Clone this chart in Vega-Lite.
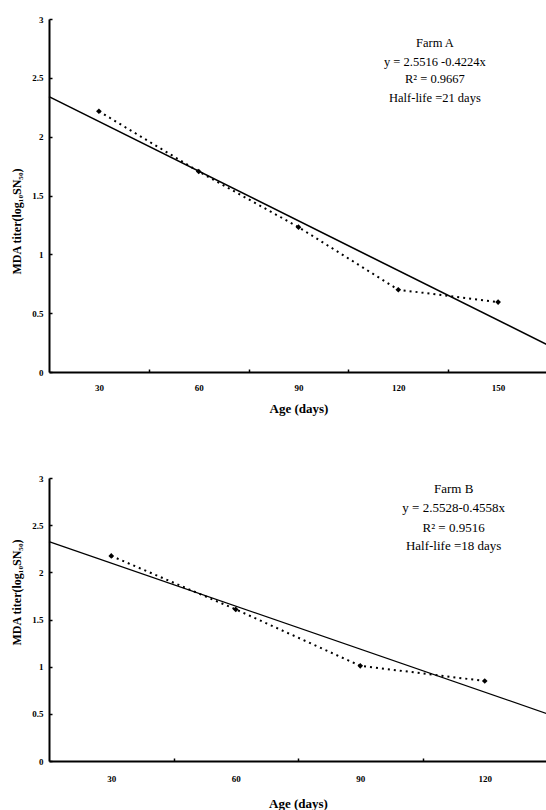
{
  "$schema": "https://vega.github.io/schema/vega-lite/v6.json",
  "padding": {"left": 10, "top": 15, "right": 0, "bottom": 0},
  "background": "white",
  "spacing": 59,
  "config": {
    "font": "Liberation Serif",
    "view": {"stroke": null},
    "axis": {
      "grid": false,
      "domainColor": "black",
      "domainWidth": 2,
      "tickColor": "black",
      "tickWidth": 1.5,
      "labelFont": "Liberation Serif",
      "labelFontWeight": "bold",
      "labelFontSize": 9,
      "labelColor": "black",
      "titleFont": "Liberation Serif",
      "titleFontWeight": "bold",
      "titleColor": "black"
    }
  },
  "datasets": {
    "pointsA": [
      {"age": 30, "titer": 2.216},
      {"age": 60, "titer": 1.704},
      {"age": 90, "titer": 1.231},
      {"age": 120, "titer": 0.699},
      {"age": 150, "titer": 0.594}
    ],
    "fitA": [
      {"age": 15, "titer": 2.3404},
      {"age": 165, "titer": 0.2284}
    ],
    "notesA": [
      {"age": 131, "titer": 2.795, "label": "Farm A"},
      {"age": 131, "titer": 2.636, "label": "y = 2.5516 -0.4224x"},
      {"age": 131, "titer": 2.49, "label": "R² = 0.9667"},
      {"age": 131, "titer": 2.327, "label": "Half-life =21 days"}
    ],
    "pointsB": [
      {"age": 30, "titer": 2.174},
      {"age": 60, "titer": 1.607},
      {"age": 90, "titer": 1.009},
      {"age": 120, "titer": 0.848}
    ],
    "fitB": [
      {"age": 15, "titer": 2.3249},
      {"age": 135, "titer": 0.5017}
    ],
    "notesB": [
      {"age": 112.5, "titer": 2.883, "label": "Farm B"},
      {"age": 112.5, "titer": 2.682, "label": "y = 2.5528-0.4558x"},
      {"age": 112.5, "titer": 2.47, "label": "R² = 0.9516"},
      {"age": 112.5, "titer": 2.279, "label": "Half-life =18 days"}
    ]
  },
  "vconcat": [
    {
      "width": 499,
      "height": 353,
      "layer": [
        {
          "data": {"name": "fitA"},
          "mark": {"type": "line", "color": "black", "strokeWidth": 1.6},
          "encoding": {
            "x": {
              "field": "age", "type": "quantitative",
              "scale": {"domain": [15, 165], "nice": false, "zero": false},
              "axis": {
                "values": [30, 45, 60, 75, 90, 105, 120, 135, 150],
                "labelExpr": "datum.value % 30 == 0 ? datum.value : ''",
                "labelOverlap": false,
                "labelFlush": false,
                "tickSize": -3,
                "tickOpacity": {"condition": {"test": "datum.value % 30 == 0", "value": 0}, "value": 1},
                "labelPadding": 14,
                "title": "Age (days)",
                "titleFontSize": 13,
                "titlePadding": 10
              }
            },
            "y": {
              "field": "titer", "type": "quantitative",
              "scale": {"domain": [0, 3], "nice": false},
              "axis": {
                "values": [0, 0.5, 1, 1.5, 2, 2.5, 3],
                "format": "~g",
                "tickSize": -3,
                "labelPadding": 9,
                "title": "MDA titer(log₁₀SN₅₀)",
                "titleFontSize": 12,
                "titlePadding": 8,
                "titleY": 202
              }
            }
          }
        },
        {
          "data": {"name": "pointsA"},
          "mark": {"type": "line", "color": "black", "strokeWidth": 2, "strokeDash": [2, 4]},
          "encoding": {
            "x": {"field": "age", "type": "quantitative"},
            "y": {"field": "titer", "type": "quantitative"}
          }
        },
        {
          "data": {"name": "pointsA"},
          "mark": {"type": "point", "shape": "diamond", "filled": true, "color": "black", "size": 32, "opacity": 1},
          "encoding": {
            "x": {"field": "age", "type": "quantitative"},
            "y": {"field": "titer", "type": "quantitative"}
          }
        },
        {
          "data": {"name": "notesA"},
          "mark": {"type": "text", "font": "Liberation Serif", "fontSize": 12.5, "color": "black", "align": "center", "baseline": "middle"},
          "encoding": {
            "x": {"field": "age", "type": "quantitative"},
            "y": {"field": "titer", "type": "quantitative"},
            "text": {"field": "label"}
          }
        }
      ]
    },
    {
      "width": 498,
      "height": 283,
      "layer": [
        {
          "data": {"name": "fitB"},
          "mark": {"type": "line", "color": "black", "strokeWidth": 1.2},
          "encoding": {
            "x": {
              "field": "age", "type": "quantitative",
              "scale": {"domain": [15, 135], "nice": false, "zero": false},
              "axis": {
                "values": [30, 45, 60, 75, 90, 105, 120],
                "labelExpr": "datum.value % 30 == 0 ? datum.value : ''",
                "labelOverlap": false,
                "labelFlush": false,
                "tickSize": -3,
                "tickOpacity": {"condition": {"test": "datum.value % 30 == 0", "value": 0}, "value": 1},
                "labelPadding": 16,
                "title": "Age (days)",
                "titleFontSize": 13,
                "titlePadding": 14
              }
            },
            "y": {
              "field": "titer", "type": "quantitative",
              "scale": {"domain": [0, 3], "nice": false},
              "axis": {
                "values": [0, 0.5, 1, 1.5, 2, 2.5, 3],
                "format": "~g",
                "tickSize": -3,
                "labelPadding": 9,
                "title": "MDA titer(log₁₀SN₅₀)",
                "titleFontSize": 12,
                "titlePadding": 8,
                "titleY": 114
              }
            }
          }
        },
        {
          "data": {"name": "pointsB"},
          "mark": {"type": "line", "color": "black", "strokeWidth": 2, "strokeDash": [2, 4]},
          "encoding": {
            "x": {"field": "age", "type": "quantitative"},
            "y": {"field": "titer", "type": "quantitative"}
          }
        },
        {
          "data": {"name": "pointsB"},
          "mark": {"type": "point", "shape": "diamond", "filled": true, "color": "black", "size": 32, "opacity": 1},
          "encoding": {
            "x": {"field": "age", "type": "quantitative"},
            "y": {"field": "titer", "type": "quantitative"}
          }
        },
        {
          "data": {"name": "notesB"},
          "mark": {"type": "text", "font": "Liberation Serif", "fontSize": 13, "color": "black", "align": "center", "baseline": "middle"},
          "encoding": {
            "x": {"field": "age", "type": "quantitative"},
            "y": {"field": "titer", "type": "quantitative"},
            "text": {"field": "label"}
          }
        }
      ]
    }
  ]
}
